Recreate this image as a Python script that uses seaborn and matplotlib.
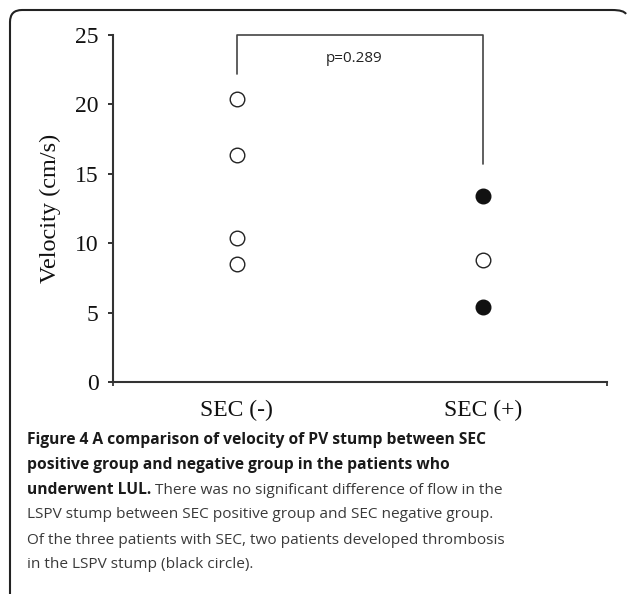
import numpy as np
import pandas as pd
import matplotlib
matplotlib.use("Agg")
import matplotlib.pyplot as plt
import seaborn as sns
from matplotlib.path import Path
from matplotlib.patches import PathPatch

# --------------------------
# Data
# --------------------------
groups = ["SEC (-)", "SEC (+)"]
neg_velocity = [20.4, 16.35, 10.4, 8.5]
pos_velocity = [13.4, 8.8, 5.4]
pos_thrombosis = [True, False, True]

p_label = "p=0.289"
bracket_top = 25.0
bracket_left_end = 22.2
bracket_right_end = 15.7

caption_bold = ["Figure 4 A comparison of velocity of PV stump between SEC",
                "positive group and negative group in the patients who",
                "underwent LUL."]
caption_rest = [" There was no significant difference of flow in the",
                "LSPV stump between SEC positive group and SEC negative group.",
                "Of the three patients with SEC, two patients developed thrombosis",
                "in the LSPV stump (black circle)."]

df = pd.DataFrame({
    "group": [groups[0]] * len(neg_velocity) + [groups[1]] * len(pos_velocity),
    "velocity": neg_velocity + pos_velocity,
    "thrombosis": [False] * len(neg_velocity) + pos_thrombosis,
})

# --------------------------
# Plot
# --------------------------
sns.set_theme(style="ticks")
plt.rcParams["font.family"] = ["Liberation Serif", "DejaVu Serif"]

fig = plt.figure(figsize=(6.29, 5.94), dpi=100)
ax = fig.add_axes([0.1797, 0.3569, 0.7853, 0.5842])

open_pts = df[~df["thrombosis"]]
filled_pts = df[df["thrombosis"]]
sns.stripplot(data=open_pts, x="group", y="velocity", order=groups, jitter=False,
              color="white", edgecolor="#222222", linewidth=1.0, size=10.5, ax=ax, zorder=3)
sns.stripplot(data=filled_pts, x="group", y="velocity", order=groups, jitter=False,
              color="#111111", edgecolor="#111111", linewidth=1.0, size=10.5, ax=ax, zorder=3)

ax.set_xlim(-0.5, 1.5)
ax.set_ylim(0, 25)
ax.set_yticks(np.arange(0, 26, 5))
ax.set_xlabel("")
ax.set_ylabel("Velocity (cm/s)", fontsize=17.5, labelpad=10, color="#111111")
ax.tick_params(axis="y", labelsize=17, length=3.5, width=1.2, pad=7, colors="#111111")
ax.tick_params(axis="x", labelsize=17, length=0, pad=13, colors="#111111")
ax.set_xticks([-0.5, 1.5], minor=True)
ax.tick_params(axis="x", which="minor", length=3, width=1.2, direction="out")
sns.despine(ax=ax)
for side in ["left", "bottom"]:
    ax.spines[side].set_linewidth(1.5)
    ax.spines[side].set_color("#333333")

# significance bracket
ax.plot([0, 0, 1, 1], [bracket_left_end, bracket_top, bracket_top, bracket_right_end],
        color="#444444", lw=1.2, clip_on=False)
ax.text(0.475, 23.3, p_label, ha="center", va="center", fontsize=11,
        family="Open Sans", color="#222222")

# rounded frame (top and left edges)
W, H = 629, 594
def fc(x, y):
    return (x / W, 1 - y / H)
r = 12
verts = [fc(10, 594), fc(10, 10 + r), fc(10, 10), fc(10 + r, 10),
         fc(624 - r, 10), fc(624, 10), fc(626, 14)]
codes = [Path.MOVETO, Path.LINETO, Path.CURVE3, Path.CURVE3,
         Path.LINETO, Path.CURVE3, Path.CURVE3]
fig.add_artist(PathPatch(Path(verts, codes), fill=False, lw=1.5, ec="#222222",
                         transform=fig.transFigure))

# caption
renderer = fig.canvas.get_renderer()
x0 = 27 / W
line_y = [440, 465, 490, 515, 540, 565]
for i, txt in enumerate(caption_bold):
    t = fig.text(x0, 1 - line_y[i] / H, txt, fontsize=11.25, fontweight="bold",
                 family="Open Sans", color="#1a1a1a", va="center")
bb = t.get_window_extent(renderer)
fig.text(bb.x1 / fig.bbox.width, 1 - line_y[2] / H, caption_rest[0], fontsize=11.05,
         family="Open Sans", color="#3a3a3a", va="center")
for i, txt in enumerate(caption_rest[1:]):
    fig.text(x0, 1 - line_y[3 + i] / H, txt, fontsize=11.05,
             family="Open Sans", color="#3a3a3a", va="center")

fig.savefig("out.png", dpi=100)
